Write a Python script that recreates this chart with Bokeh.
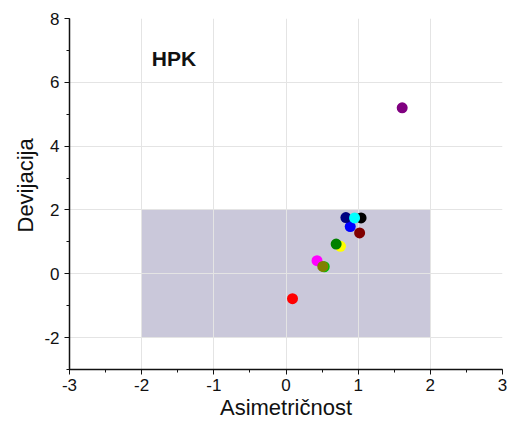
from bokeh.plotting import figure
from bokeh.models import Range1d, Label, SingleIntervalTicker, CustomJSTickFormatter, Title
from bokeh.embed import file_html
from bokeh.resources import INLINE

# skewness / deviation pairs for each sample
skew = [1.61, 0.09, 0.43, 0.53, 0.51, 0.755, 0.695, 0.89, 0.83, 1.04, 0.95, 1.02]
dev = [5.20, -0.78, 0.41, 0.22, 0.23, 0.86, 0.93, 1.48, 1.76, 1.75, 1.75, 1.28]
colors = ["#800080", "#ff0000", "#ff00ff", "#00c000", "#808000", "#ffff00",
          "#008000", "#0000ff", "#000080", "#000000", "#00ffff", "#800000"]

# acceptance region
box_x = [-2, 2]
box_y = [-2, 2]

x_ticks = [-3, -2, -1, 0, 1, 2, 3]
y_ticks = [-2, 0, 2, 4, 6, 8]

W, H = 510, 426
p = figure(width=W, height=H, output_backend="svg", toolbar_location=None,
           x_range=Range1d(-3, 3), y_range=Range1d(-3, 8),
           min_border_left=69, min_border_right=8, min_border_top=18,
           min_border_bottom=57)
p.outline_line_color = None
p.background_fill_color = "white"
p.border_fill_color = "white"

p.quad(left=box_x[0], right=box_x[1], bottom=box_y[0], top=box_y[1],
       fill_color="#cac8da", line_color=None, level="image")

p.scatter(skew, dev, size=11, fill_color=colors, line_color=None)

p.add_layout(Label(x=-1.86, y=6.38, text="HPK", text_font="Liberation Sans",
                   text_font_style="bold", text_font_size="21px", text_color="#111111"))

# plain hyphen for negative tick values
fmt = "return tick.toString();"

for ax, step in ((p.xaxis[0], 1), (p.yaxis[0], 2)):
    ax.ticker = SingleIntervalTicker(interval=step, num_minor_ticks=2)
    ax.formatter = CustomJSTickFormatter(code=fmt)
    ax.major_label_text_font = "Liberation Sans"
    ax.major_label_text_font_size = "17px"
    ax.major_label_text_color = "#111111"
    ax.axis_line_width = 1.5
    ax.axis_line_color = "#111111"
    ax.major_tick_line_color = "#111111"
    ax.minor_tick_line_color = "#111111"
    ax.major_tick_out = 5
    ax.major_tick_in = 0
    ax.minor_tick_out = 3
    ax.minor_tick_in = 0

p.xaxis[0].axis_label = "Asimetričnost"
p.xaxis[0].axis_label_text_font = "Liberation Sans"
p.xaxis[0].axis_label_text_font_style = "normal"
p.xaxis[0].axis_label_text_font_size = "22px"
p.xaxis[0].axis_label_text_color = "#111111"
p.xaxis[0].axis_label_standoff = 1
p.xaxis[0].major_label_standoff = 4
p.yaxis[0].major_label_standoff = 5

# y-axis title, set in the left panel, anchored from the bottom of the frame
ytitle = Title(text="Devijacija", align="left", offset=137, standoff=8,
               text_font="Liberation Sans", text_font_style="normal",
               text_font_size="22px", text_color="#111111")
p.add_layout(ytitle, "left")

p.xgrid.grid_line_color = "#e4e4e4"
p.ygrid.grid_line_color = "#e4e4e4"
p.xgrid.ticker = x_ticks
p.ygrid.ticker = y_ticks

open("out.html", "w").write(file_html(p, INLINE))
